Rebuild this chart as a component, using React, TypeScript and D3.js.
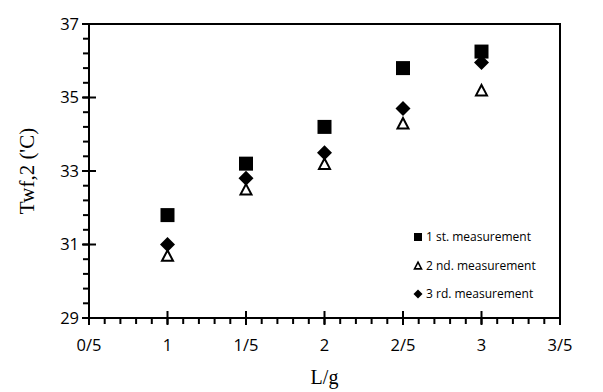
import React, { useRef, useEffect } from "react";
import * as d3 from "d3";

const xValues = [1, 1.5, 2, 2.5, 3];
const series1 = [31.8, 33.2, 34.2, 35.8, 36.25];
const series2 = [30.7, 32.5, 33.2, 34.3, 35.2];
const series3 = [31.0, 32.8, 33.5, 34.7, 35.95];
const seriesNames = ["1 st. measurement", "2 nd. measurement", "3 rd. measurement"];
const xTickLabels = ["0/5", "1", "1/5", "2", "2/5", "3", "3/5"];
const yTicks = [29, 31, 33, 35, 37];

// diamond as a square turned 45 degrees (d3's own diamond is too narrow)
const diamondPath = (r: number) => `M0,${-r}L${r},0L0,${r}L${-r},0Z`;
const trianglePath = (w: number) => {
  const h = w * 0.95;
  return `M0,${-h / 2}L${w / 2},${h / 2}L${-w / 2},${h / 2}Z`;
};

const App = () => {
  const svgRef = useRef<SVGSVGElement>(null);

  useEffect(() => {
    const svg = d3.select(svgRef.current);
    svg.selectAll("*").remove();
    const width = 603;
    const height = 392;
    const m = { left: 89, right: 43, top: 24, bottom: 74 };

    const x = d3.scaleLinear().domain([0.5, 3.5]).range([m.left, width - m.right]);
    const y = d3.scaleLinear().domain([29, 37]).range([height - m.bottom, m.top]);

    const g = svg.append("g");
    const ink = "#000";
    const labelFont = "'Open Sans', 'Liberation Sans', sans-serif";

    // frame
    g.append("rect")
      .attr("x", x(0.5))
      .attr("y", y(37))
      .attr("width", x(3.5) - x(0.5))
      .attr("height", y(29) - y(37))
      .attr("fill", "none")
      .attr("stroke", ink)
      .attr("stroke-width", 2);

    // y minor ticks
    d3.range(29, 37.001, 0.4).forEach((v) => {
      g.append("line")
        .attr("x1", x(0.5) - 6)
        .attr("x2", x(0.5))
        .attr("y1", y(v))
        .attr("y2", y(v))
        .attr("stroke", ink)
        .attr("stroke-width", 2);
    });
    yTicks.forEach((v) => {
      g.append("line")
        .attr("x1", x(0.5) - 7)
        .attr("x2", x(0.5) + 7)
        .attr("y1", y(v))
        .attr("y2", y(v))
        .attr("stroke", ink)
        .attr("stroke-width", 2);
      g.append("text")
        .attr("x", x(0.5) - 10)
        .attr("y", y(v))
        .attr("dy", "0.36em")
        .attr("text-anchor", "end")
        .attr("font-family", labelFont)
        .attr("font-size", 16.5)
        .attr("fill", ink)
        .text(v);
    });

    // x minor ticks
    d3.range(0.5, 3.5001, 0.1).forEach((v) => {
      g.append("line")
        .attr("x1", x(v))
        .attr("x2", x(v))
        .attr("y1", y(29))
        .attr("y2", y(29) + 6)
        .attr("stroke", ink)
        .attr("stroke-width", 2);
    });
    xTickLabels.forEach((lab, i) => {
      const v = 0.5 + i * 0.5;
      g.append("line")
        .attr("x1", x(v))
        .attr("x2", x(v))
        .attr("y1", y(29) - 7)
        .attr("y2", y(29) + 7)
        .attr("stroke", ink)
        .attr("stroke-width", 2);
      g.append("text")
        .attr("x", x(v))
        .attr("y", y(29) + 27)
        .attr("dy", "0.36em")
        .attr("text-anchor", "middle")
        .attr("font-family", labelFont)
        .attr("font-size", 16.5)
        .attr("fill", ink)
        .text(lab);
    });

    // axis titles
    g.append("text")
      .attr("x", (x(0.5) + x(3.5)) / 2)
      .attr("y", 384)
      .attr("text-anchor", "middle")
      .attr("font-family", "'Liberation Serif', 'DejaVu Serif', serif")
      .attr("font-size", 20)
      .attr("fill", ink)
      .text("L/g");
    g.append("text")
      .attr("transform", `translate(34, ${(y(29) + y(37)) / 2}) rotate(-90)`)
      .attr("text-anchor", "middle")
      .attr("font-family", "'Liberation Serif', 'DejaVu Serif', serif")
      .attr("font-size", 21)
      .attr("fill", ink)
      .text("Twf,2 ('C)");

    const square = d3.symbol().type(d3.symbolSquare).size(196);

    const drawSeries = (vals: number[], kind: number) => {
      vals.forEach((v, i) => {
        const p = g.append("path").attr("transform", `translate(${x(xValues[i])}, ${y(v)})`);
        if (kind === 0) p.attr("d", square()).attr("fill", ink);
        if (kind === 1)
          p.attr("d", trianglePath(11)).attr("fill", "#fff").attr("stroke", ink).attr("stroke-width", 2);
        if (kind === 2) p.attr("d", diamondPath(7.5)).attr("fill", ink);
      });
    };
    drawSeries(series1, 0);
    drawSeries(series2, 1);
    drawSeries(series3, 2);

    // legend
    const lg = g.append("g").attr("transform", "translate(418, 237)");
    seriesNames.forEach((name, i) => {
      const yy = i * 28.5;
      const p = lg.append("path").attr("transform", `translate(0, ${yy})`);
      if (i === 0) p.attr("d", d3.symbol().type(d3.symbolSquare).size(64)()).attr("fill", ink);
      if (i === 1)
        p.attr("d", trianglePath(7)).attr("fill", "#fff").attr("stroke", ink).attr("stroke-width", 1.6);
      if (i === 2) p.attr("d", diamondPath(4.5)).attr("fill", ink);
      lg.append("text")
        .attr("x", 8)
        .attr("y", yy)
        .attr("dy", "0.36em")
        .attr("font-family", labelFont)
        .attr("font-size", 12)
        .attr("fill", ink)
        .text(name);
    });
  }, []);

  return (
    <svg
      ref={svgRef}
      width={603}
      height={392}
      style={{ position: "absolute", left: 0, top: 0, background: "#fff" }}
    ></svg>
  );
};

export default App;
